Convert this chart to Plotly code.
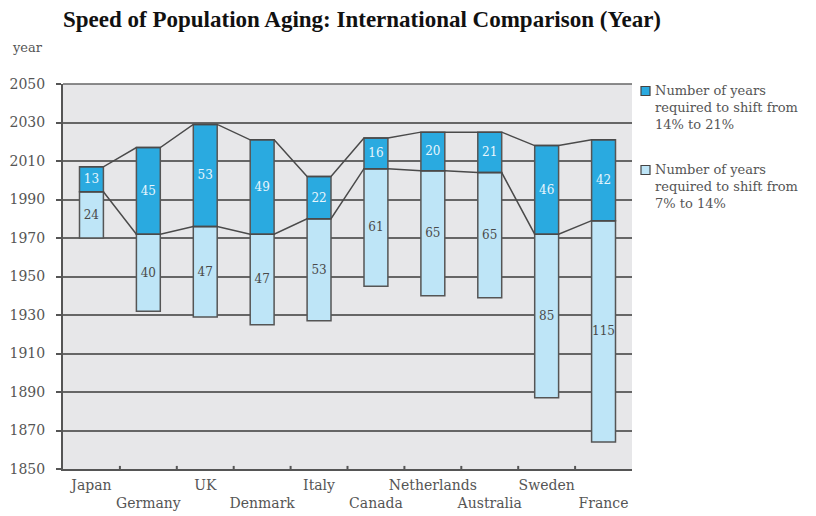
import plotly.graph_objects as go

# Year each country's 65+ share reached 7%, and years taken to reach 14% and 21%
countries = ["Japan", "Germany", "UK", "Denmark", "Italy", "Canada",
             "Netherlands", "Australia", "Sweden", "France"]
year_7pct = [1970, 1932, 1929, 1925, 1927, 1945, 1940, 1939, 1887, 1864]
years_7_to_14 = [24, 40, 47, 47, 53, 61, 65, 65, 85, 115]
years_14_to_21 = [13, 45, 53, 49, 22, 16, 20, 21, 46, 42]
year_ticks = list(range(1850, 2051, 20))

year_14pct = [a + b for a, b in zip(year_7pct, years_7_to_14)]
year_21pct = [a + b for a, b in zip(year_14pct, years_14_to_21)]

LIGHT = "#BEE5F7"
DARK = "#2AAAE0"
EDGE = "#555555"
TXT = "#555555"
SERIF = "DejaVu Serif"
BAR_W = 0.42

# plot area in pixels
L, R, T, B = 63, 632, 84, 469
W_PX, H_PX = 816, 516


def px(x):
    return (x - L) / (R - L)


def py(y):
    return (B - y) / (B - T)


xs = list(range(len(countries)))
fig = go.Figure()

fig.add_trace(go.Bar(
    x=xs, y=years_7_to_14, base=year_7pct, width=BAR_W,
    marker=dict(color=LIGHT, line=dict(color=EDGE, width=1.5)),
    text=[str(v) for v in years_7_to_14], textposition="inside",
    insidetextanchor="middle", textangle=0,
    textfont=dict(family=SERIF, size=12, color="#4a4a4a"),
    showlegend=False, hoverinfo="skip",
))
fig.add_trace(go.Bar(
    x=xs, y=years_14_to_21, base=year_14pct, width=BAR_W,
    marker=dict(color=DARK, line=dict(color=EDGE, width=1.5)),
    text=[str(v) for v in years_14_to_21], textposition="inside",
    insidetextanchor="middle", textangle=0,
    textfont=dict(family=SERIF, size=12, color="#E8F6FD"),
    showlegend=False, hoverinfo="skip",
))

# connecting lines running along bar edges
def edge_path(vals):
    lx, ly = [], []
    for i, v in enumerate(vals):
        lx += [i - BAR_W / 2, i + BAR_W / 2]
        ly += [v, v]
    return lx, ly

for series in (year_21pct, year_14pct):
    lx, ly = edge_path(series)
    fig.add_trace(go.Scatter(
        x=lx, y=ly, mode="lines",
        line=dict(color="#4a4a4a", width=1.5),
        showlegend=False, hoverinfo="skip",
    ))

ticktext = [c if i % 2 == 0 else "<br>" + c for i, c in enumerate(countries)]

fig.update_layout(
    width=W_PX, height=H_PX,
    margin=dict(l=L, r=W_PX - R, t=T, b=H_PX - B),
    paper_bgcolor="white", plot_bgcolor="#E7E7E9",
    barmode="overlay",
    uniformtext=dict(minsize=11, mode="show"),
    font=dict(family=SERIF, color=TXT),
    xaxis=dict(
        range=[-0.5, len(countries) - 0.5],
        tickvals=xs, ticktext=ticktext, tickangle=0, automargin=False,
        tickfont=dict(family=SERIF, size=14, color=TXT),
        showgrid=False, zeroline=False,
        showline=True, linecolor="#555", linewidth=2,
        ticks="", ticklabelstandoff=2, fixedrange=True,
    ),
    yaxis=dict(
        range=[1850, 2050], tickvals=year_ticks, automargin=False,
        tickfont=dict(family=SERIF, size=14, color=TXT),
        showgrid=True, gridcolor="#666666", gridwidth=1.6,
        zeroline=False, showline=True, linecolor="#555", linewidth=2,
        ticks="outside", ticklen=5, tickcolor="#555", tickwidth=1.5,
        ticklabelstandoff=8, fixedrange=True,
    ),
    showlegend=False,
)

# top edge of the plot frame
fig.add_shape(type="line", xref="paper", yref="paper", x0=0, x1=1, y0=1, y1=1,
              line=dict(color="#666", width=1.6))

# boundary ticks on the category axis
for i in range(1, len(countries)):
    fig.add_shape(type="line", xref="x", yref="paper",
                  x0=i - 0.5, x1=i - 0.5, y0=0, y1=0.008,
                  line=dict(color="#555", width=2))

# title and axis unit
fig.add_annotation(text="<b>Speed of Population Aging: International Comparison (Year)</b>",
                   xref="paper", yref="paper", x=px(61), y=py(20),
                   xanchor="left", yanchor="middle", showarrow=False,
                   font=dict(family="Liberation Serif", size=23, color="#111"))
fig.add_annotation(text="year", xref="paper", yref="paper", x=px(10), y=py(47),
                   xanchor="left", yanchor="middle", showarrow=False,
                   font=dict(family=SERIF, size=13, color=TXT))

# legend drawn beside the plot
legend_items = [
    (DARK, "Number of years<br>required to shift from<br>14% to 21%", 91),
    (LIGHT, "Number of years<br>required to shift from<br>7% to 14%", 170),
]
for color, label, yc in legend_items:
    fig.add_shape(type="rect", xref="paper", yref="paper",
                  x0=px(641), x1=px(650), y0=py(yc + 4.5), y1=py(yc - 4.5),
                  fillcolor=color, line=dict(color="#444", width=1.2))
    fig.add_annotation(text=label, xref="paper", yref="paper",
                       x=px(653), y=py(yc - 10), xanchor="left", yanchor="top",
                       align="left", showarrow=False,
                       font=dict(family=SERIF, size=13, color=TXT))

fig.write_html("out.html")
